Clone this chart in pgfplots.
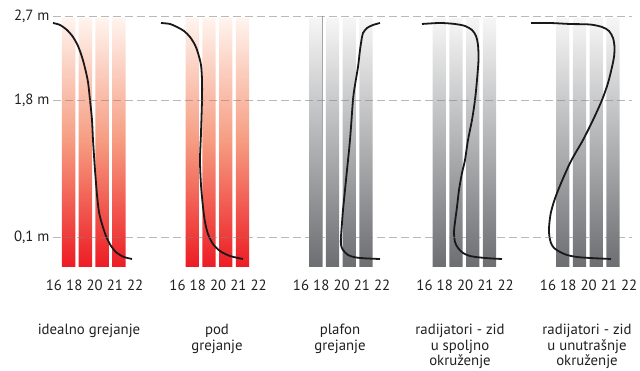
\documentclass[border=0pt]{standalone}
\usepackage{fontspec}
\setmainfont{PT Sans}
\usepackage{pgfplots}
\pgfplotsset{compat=1.18}
\definecolor{txt}{RGB}{35,31,32}
\definecolor{rtop}{RGB}{255,244,238}
\definecolor{rmid}{RGB}{246,155,128}
\definecolor{rbot}{RGB}{237,28,36}
\definecolor{gtop}{RGB}{246,246,246}
\definecolor{gmid}{RGB}{178,179,181}
\definecolor{gbot}{RGB}{109,110,113}
\definecolor{curve}{RGB}{26,24,25}
\begin{document}
\begin{tikzpicture}[font=\fontsize{14.8}{15.5}\selectfont, text=txt]
\begin{axis}[
  scale only axis, width=579pt, height=371pt,
  xmin=53, xmax=632, ymin=-104, ymax=267,
  axis line style={draw=none}, major tick length=0pt,
  xtick=\empty,
  ytick={30,167,250.5},
  yticklabels={{0,1 m},{1,8 m},{2,7 m}},
  yticklabel style={font=\fontsize{14.8}{16}\selectfont, text=txt},
  ymajorgrids, axis on top,
  major grid style={black!50, opacity=0.55, line width=0.9pt, dash pattern=on 8pt off 4pt},
  clip=false,
]
% red bars
\addplot[ybar, bar width=13.3, draw=none, top color=rtop, bottom color=rbot, middle color=rmid]
  coordinates {(68.65,249) (85.4,249) (102.15,249) (118.9,249)
               (192.15,249) (208.9,249) (225.65,249) (242.4,249)};
% gray bars
\addplot[ybar, bar width=13.3, draw=none, top color=gtop, bottom color=gbot, middle color=gmid]
  coordinates {(315.65,249) (332.4,249) (349.15,249) (365.9,249)
               (439.15,249) (455.9,249) (472.65,249) (489.4,249)
               (562.65,249) (579.4,249) (596.15,249) (612.9,249)};
\addplot[gray!70, line width=0.5pt] coordinates {(322.5,0) (322.5,251)};
% curves
\addplot[smooth, line width=1.8pt, curve] coordinates {
 (53,244) (60,242) (67,237) (73,230) (78,221) (82,210) (85,199) (88,185) (90,167)
 (92,147) (93,127) (95,97) (97,72) (99,55) (102,43) (106,31) (111,21) (117,14) (124,10) (132,8)};
\addplot[smooth, line width=1.8pt, curve] coordinates {
 (161,244) (170,243) (177,240) (184,236) (190,230) (195,222) (198,214) (201,202) (202,187)
 (202,167) (201,134) (200,107) (201,82) (203,60) (205,45) (208,33) (213,23) (220,16) (230,11) (243,8)};
\addplot[smooth, line width=1.8pt, curve] coordinates {
 (380,244) (373,242) (367,239) (363,234) (362,230) (360,217) (358,200) (355,182) (353,167)
 (350,127) (347,97) (345,77) (343,57) (342,44) (341,30) (341,22) (343,17) (348,12) (356,9.5) (368,8.5) (380,8)};
\addplot[smooth, line width=1.8pt, curve] coordinates {
 (422,243) (440,244) (455,243) (465,241) (472,237) (476,231) (478,222) (478.5,207) (477,187)
 (475,167) (472,147) (468,127) (465,107) (462,94) (459,77) (457,60) (455,45) (454,35) (455,25)
 (458,19) (463,14) (470,11) (480,9.5) (492,8.5) (502,8)};
\addplot[smooth, line width=1.8pt, curve] coordinates {
 (531,244) (550,244) (570,243) (590,242.5) (602,240) (609,236) (613,229) (614.5,220) (614,210)
 (612,200) (608,184) (602,167) (593,147) (583,127) (570,104) (557,74) (551,55)
 (549,39) (549.5,30) (551,24) (554,19) (560,15) (567,12) (577,10) (590,9) (611,8)};
% temperature labels
\foreach \k/\s in {0/0,1/123.5,2/247,3/370.5,4/494}{
  \edef\temp{\noexpand\node at (axis cs:{54+\s},-18) {16};
    \noexpand\node at (axis cs:{74.3+\s},-18) {18};
    \noexpand\node at (axis cs:{94.6+\s},-18) {20};
    \noexpand\node at (axis cs:{114.9+\s},-18) {21};
    \noexpand\node at (axis cs:{135.2+\s},-18) {22};}
  \temp
}
% category labels
\node[anchor=north, align=center, inner sep=0pt] at (axis cs:89,-57) {idealno grejanje};
\node[anchor=north, align=center, inner sep=0pt] at (axis cs:217,-57) {pod\\grejanje};
\node[anchor=north, align=center, inner sep=0pt] at (axis cs:340,-57) {plafon\\grejanje};
\node[anchor=north, align=center, inner sep=0pt] at (axis cs:460,-57) {radijatori - zid\\u spoljno\\okruženje};
\node[anchor=north, align=center, inner sep=0pt] at (axis cs:587,-57) {radijatori - zid\\u unutrašnje\\okruženje};
\coordinate (bl) at (axis cs:0,-104);
\coordinate (tr) at (axis cs:640,267);
\end{axis}
\pgfresetboundingbox
\useasboundingbox (bl) rectangle (tr);
\end{tikzpicture}
\end{document}
